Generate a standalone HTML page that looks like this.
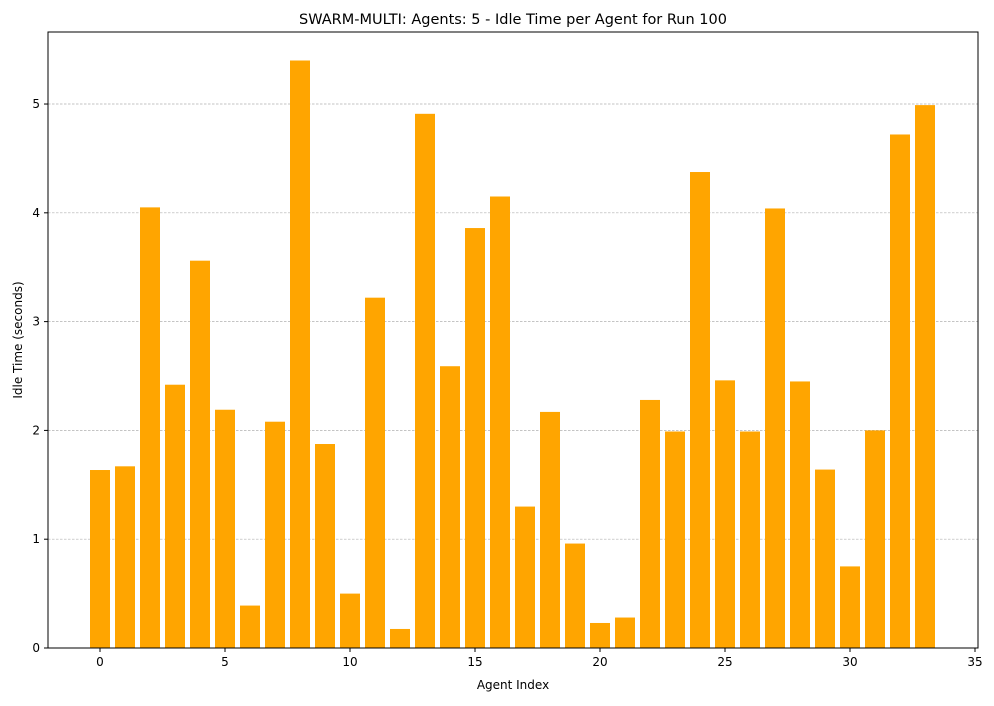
<!DOCTYPE html>
<html><head><meta charset="utf-8"><style>
body{margin:0;background:#fff;font-family:"Liberation Sans","DejaVu Sans",sans-serif;}
svg text{font-family:"DejaVu Sans","Liberation Sans",sans-serif;fill:#000}
</style></head><body>
<svg id="chart" width="994" height="701" xmlns="http://www.w3.org/2000/svg"></svg>
<script>
const categories = [0,1,2,3,4,5,6,7,8,9,10,11,12,13,14,15,16,17,18,19,20,21,22,23,24,25,26,27,28,29,30,31,32,33];
const idleTimes = [1.636,1.67,4.05,2.42,3.56,2.19,0.39,2.08,5.40,1.875,0.50,3.22,0.175,4.91,2.59,3.86,4.15,1.30,2.17,0.96,0.23,0.28,2.28,1.99,4.375,2.46,1.99,4.04,2.45,1.64,0.75,2.00,4.72,4.99];
const xTicks = [0,5,10,15,20,25,30,35];
const yTicks = [0,1,2,3,4,5];

const NS="http://www.w3.org/2000/svg";
const svg=document.getElementById('chart');
const L=48,R=978,T=32,B=648;
const xMin=-2.08,xMax=35.12,yMin=0,yMax=5.662;
const xs=v=>L+(v-xMin)/(xMax-xMin)*(R-L);
const ys=v=>B-(v-yMin)/(yMax-yMin)*(B-T);
function mk(tag,attrs,parent){const e=document.createElementNS(NS,tag);for(const k in attrs)e.setAttribute(k,attrs[k]);(parent||svg).appendChild(e);return e;}

// grid
yTicks.forEach(v=>{if(v===0)return;
  const g=mk('line',{x1:L,x2:R,y1:ys(v),y2:ys(v),stroke:'#b0b0b0','stroke-width':0.7,'stroke-dasharray':'2.5,1.5'});
  
  
});
// bars
categories.forEach((c,i)=>{
  const x0=xs(c-0.4),x1=xs(c+0.4);
  const b=mk('rect',{x:x0,y:ys(idleTimes[i]),width:x1-x0,height:ys(0)-ys(idleTimes[i]),fill:'#ffa500'});
  
  
});
// axes frame
const fr=mk('rect',{x:L,y:T,width:R-L,height:B-T,fill:'none',stroke:'#000','stroke-width':1});


// x ticks
xTicks.forEach(v=>{
  mk('line',{x1:xs(v),x2:xs(v),y1:B,y2:B+4,stroke:'#000'});
  const t=mk('text',{x:xs(v),y:B+18,'text-anchor':'middle','font-size':12});
  t.textContent=v;
  
  
});
// y ticks
yTicks.forEach(v=>{
  mk('line',{x1:L-4,x2:L,y1:ys(v),y2:ys(v),stroke:'#000'});
  const t=mk('text',{x:L-8,y:ys(v)+4,'text-anchor':'end','font-size':12});
  t.textContent=v;
  
  
});
const xt=mk('text',{x:(L+R)/2,y:689,'text-anchor':'middle','font-size':12});
xt.textContent='Agent Index';


const yt=mk('text',{x:22,y:(T+B)/2,'text-anchor':'middle','font-size':12,transform:'rotate(-90 22 '+((T+B)/2)+')'});
yt.textContent='Idle Time (seconds)';


const ti=mk('text',{x:(L+R)/2,y:24,'text-anchor':'middle','font-size':14.5});
ti.textContent='SWARM-MULTI: Agents: 5 - Idle Time per Agent for Run 100';


</script>
</body></html>
